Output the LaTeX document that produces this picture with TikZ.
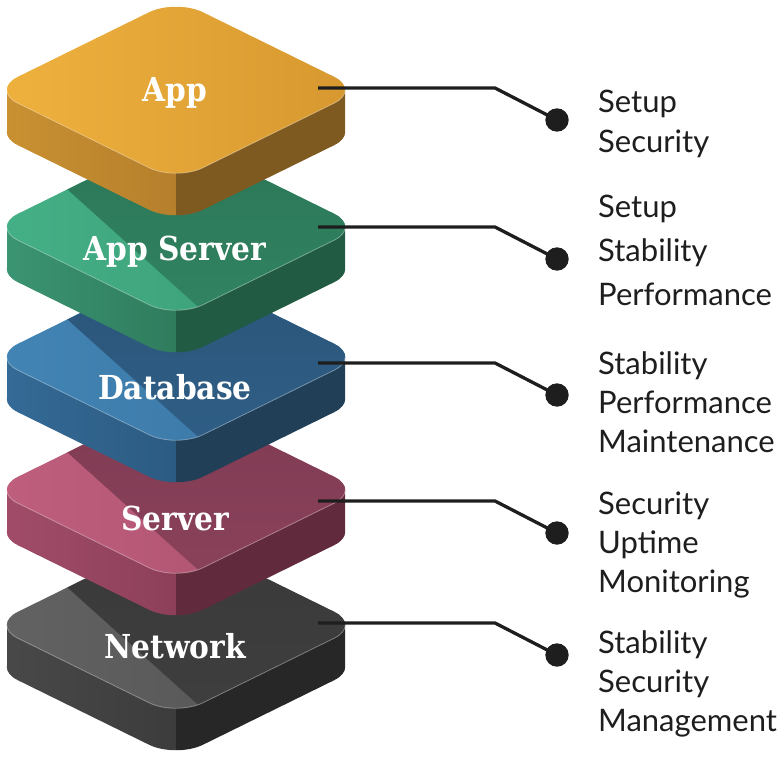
\documentclass[tikz,border=0pt]{standalone}
\usepackage{fontspec}
\setmainfont{Lato}
\newfontfamily\slabfont[FakeStretch=0.9]{DejaVu Serif}

\definecolor{ink}{HTML}{1E1E1E}
% App
\definecolor{applitA}{HTML}{F0B23E}\definecolor{applitB}{HTML}{D6982F}
\definecolor{appsideA}{HTML}{CC9332}\definecolor{appsideB}{HTML}{B57F2C}\definecolor{appsideR}{HTML}{7E5920}
% App Server
\definecolor{asvlitA}{HTML}{45B087}\definecolor{asvlitB}{HTML}{3A9B74}
\definecolor{asvshA}{HTML}{2A7254}\definecolor{asvshB}{HTML}{338B67}
\definecolor{asvsideA}{HTML}{3C9775}\definecolor{asvsideB}{HTML}{2F7C5D}\definecolor{asvsideR}{HTML}{225B43}
% Database
\definecolor{dblitA}{HTML}{4285B5}\definecolor{dblitB}{HTML}{3A74A2}
\definecolor{dbshA}{HTML}{2A5275}\definecolor{dbshB}{HTML}{31638D}
\definecolor{dbsideA}{HTML}{356C98}\definecolor{dbsideB}{HTML}{2C5B82}\definecolor{dbsideR}{HTML}{223F58}
% Server
\definecolor{svlitA}{HTML}{C05F7E}\definecolor{svlitB}{HTML}{A9506D}
\definecolor{svshA}{HTML}{7C3850}\definecolor{svshB}{HTML}{90465F}
\definecolor{svsideA}{HTML}{A34E6B}\definecolor{svsideB}{HTML}{8D3F59}\definecolor{svsideR}{HTML}{612B3D}
% Network
\definecolor{netlitA}{HTML}{636363}\definecolor{netlitB}{HTML}{525252}
\definecolor{netshA}{HTML}{383838}\definecolor{netshB}{HTML}{414141}
\definecolor{netsideA}{HTML}{4A4A4A}\definecolor{netsideB}{HTML}{3C3C3C}\definecolor{netsideR}{HTML}{272727}

% rounded top face, #1 = drop
\newcommand{\face}[1]{(-92.5,#1-45.5) -- (0,#1-91) -- (185,#1) -- (0,#1+91) -- (-185,#1) -- cycle}
% one slab: #1 centre y, #2 colour prefix, #3 shadow on top
\newcommand{\slab}[3]{%
\begin{scope}[shift={(176,#1)}]
% side
\begin{scope}
\clip[rounded corners=30pt] \face{42} [sharp corners] (-169,0) -- (169,0) -- (169,42) -- (-169,42) -- cycle;
\shade[left color=#2sideA, right color=#2sideB] (-190,-100) rectangle (0,140);
\fill[#2sideR] (0,-100) rectangle (190,140);
\end{scope}
% top
\begin{scope}
\clip[rounded corners=30pt] \face{0};
\shade[left color=#2litA, right color=#2litB] (-190,-95) rectangle (190,95);
\ifnum#3=1 \shade[top color=#2shA, bottom color=#2shB] (-235,-151) -- (146,191) -- (300,191) -- (300,-151) -- cycle;\fi
\end{scope}
% edge
\begin{scope}
\clip (-190,0) rectangle (190,100);
\draw[rounded corners=30pt, white, opacity=.35, line width=.8pt] \face{0};
\end{scope}
\end{scope}}

\begin{document}
\begin{tikzpicture}[x=1pt, y=-1pt,
  lbl/.style={anchor=base, inner sep=0, text=white, font=\slabfont\bfseries\fontsize{33}{38}\selectfont},
  item/.style={anchor=base west, inner sep=0, text=ink, font=\fontsize{31}{36}\selectfont},
  link/.style={ink, line width=3.3pt},
  dot/.style={circle, fill=ink, inner sep=0, minimum size=23.4pt}]
\useasboundingbox (0,0) rectangle (780,760);
% Network
\slab{625}{net}{1}
\node[lbl] (net) at (175,658) {Network};
% Server
\slab{490}{sv}{1}
\node[lbl] (sv) at (175,530) {Server};
% Database
\slab{357}{db}{1}
\node[lbl] (db) at (175,399) {Database};
% App Server
\slab{227}{asv}{1}
\node[lbl] (asv) at (175,260) {App Server};
% App
\slab{90}{app}{0}
\node[lbl] (app) at (175,102) {App};
% Leader lines
\foreach \n/\ly in {app/88, asv/227, db/363, sv/501, net/623}{
  \coordinate (\n-a) at (318,\ly);
  \coordinate (\n-b) at (495,\ly);
  \node[dot] (\n-dot) at (557,\ly+32) {};
  \draw[link] (\n-a) -- (\n-b) -- (\n-dot.center);
}
%Text
\foreach \t [count=\i] in {Setup,Security}
  \node[item] (app-\i) at (598,{113+39*(\i-1)}) {\t};
\foreach \t [count=\i] in {Setup,Stability,Performance}
  \node[item] (asv-\i) at (598,{217+44*(\i-1)}) {\t};
\foreach \t [count=\i] in {Stability,Performance,Maintenance}
  \node[item] (db-\i) at (598,{374+39*(\i-1)}) {\t};
\foreach \t [count=\i] in {Security,Uptime,Monitoring}
  \node[item] (sv-\i) at (598,{514+39*(\i-1)}) {\t};
\foreach \t [count=\i] in {Stability,Security,Management}
  \node[item] (net-\i) at (598,{653+39*(\i-1)}) {\t};
\end{tikzpicture}
\end{document}
